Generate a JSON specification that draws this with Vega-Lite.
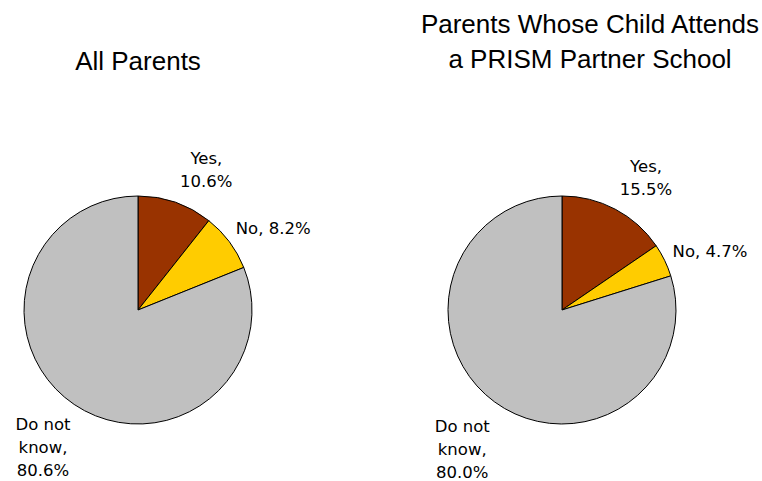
{
  "$schema": "https://vega.github.io/schema/vega-lite/v6.json",
  "background": "white",
  "padding": {"top": 12, "left": 0, "right": 0, "bottom": 0},
  "bounds": "flush",
  "spacing": 96,
  "config": {
    "view": {"stroke": null},
    "title": {"font": "Liberation Sans", "fontSize": 26, "fontWeight": "normal", "color": "black", "lineHeight": 35, "frame": "group"},
    "text": {"font": "DejaVu Sans", "fontSize": 16.5, "lineHeight": 23, "lineBreak": "\n", "color": "black", "baseline": "middle", "align": "center"}
  },
  "hconcat": [
    {
      "width": 276,
      "height": 300,
      "title": {"text": "All Parents", "offset": 76},
      "data": {"values": [
        {"cat": "Yes", "pct": 10.6, "i": 1, "label": "Yes,\n10.6%"},
        {"cat": "No", "pct": 8.2, "i": 2, "label": "No, 8.2%"},
        {"cat": "Do not know", "pct": 80.6, "i": 3, "label": "Do not\nknow,\n80.6%"}
      ]},
      "encoding": {
        "theta": {"field": "pct", "type": "quantitative", "stack": true},
        "order": {"field": "i", "type": "quantitative"}
      },
      "layer": [
        {
          "mark": {"type": "arc", "outerRadius": 114, "stroke": "black", "strokeWidth": 1},
          "encoding": {
            "color": {"field": "cat", "type": "nominal", "legend": null,
              "scale": {"domain": ["Yes", "No", "Do not know"], "range": ["#993300", "#FFCC00", "#C0C0C0"]}}
          }
        },
        {
          "mark": {"type": "text", "radius": 150, "dx": 19, "dy": -9},
          "encoding": {"text": {"condition": {"test": "datum.cat === 'Yes'", "field": "label"}, "value": ""}}
        },
        {
          "mark": {"type": "text", "radius": 150, "dx": 15, "dy": 9},
          "encoding": {"text": {"condition": {"test": "datum.cat === 'No'", "field": "label"}, "value": ""}}
        },
        {
          "mark": {"type": "text", "radius": 150, "dx": -11, "dy": -9},
          "encoding": {"text": {"condition": {"test": "datum.cat === 'Do not know'", "field": "label"}, "value": ""}}
        }
      ]
    },
    {
      "width": 380,
      "height": 300,
      "title": {"text": ["Parents Whose Child Attends", "a PRISM Partner School"], "offset": 86, "dx": 28},
      "data": {"values": [
        {"cat": "Yes", "pct": 15.5, "i": 1, "label": "Yes,\n15.5%"},
        {"cat": "No", "pct": 4.7, "i": 2, "label": "No, 4.7%"},
        {"cat": "Do not know", "pct": 80.0, "i": 3, "label": "Do not\nknow,\n80.0%"}
      ]},
      "encoding": {
        "theta": {"field": "pct", "type": "quantitative", "stack": true},
        "order": {"field": "i", "type": "quantitative"}
      },
      "layer": [
        {
          "mark": {"type": "arc", "outerRadius": 114, "stroke": "black", "strokeWidth": 1},
          "encoding": {
            "color": {"field": "cat", "type": "nominal", "legend": null,
              "scale": {"domain": ["Yes", "No", "Do not know"], "range": ["#993300", "#FFCC00", "#C0C0C0"]}}
          }
        },
        {
          "mark": {"type": "text", "radius": 150, "dx": 14, "dy": -10},
          "encoding": {"text": {"condition": {"test": "datum.cat === 'Yes'", "field": "label"}, "value": ""}}
        },
        {
          "mark": {"type": "text", "radius": 150, "dx": 13, "dy": 7},
          "encoding": {"text": {"condition": {"test": "datum.cat === 'No'", "field": "label"}, "value": ""}}
        },
        {
          "mark": {"type": "text", "radius": 150, "dx": -11, "dy": -4},
          "encoding": {"text": {"condition": {"test": "datum.cat === 'Do not know'", "field": "label"}, "value": ""}}
        }
      ]
    }
  ]
}
